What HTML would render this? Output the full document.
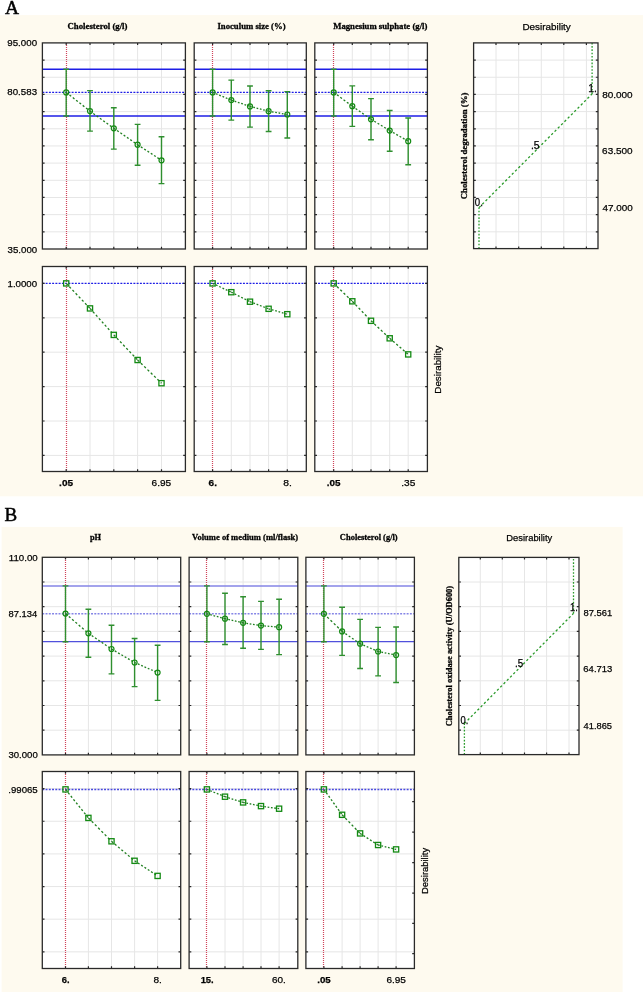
<!DOCTYPE html>
<html><head><meta charset="utf-8"><title>Desirability profiles</title>
<style>html,body{margin:0;padding:0;background:#fff;width:643px;height:992px;overflow:hidden;font-family:"Liberation Sans",sans-serif}svg{display:block}</style>
</head><body>
<svg width="643" height="992" viewBox="0 0 643 992">
<rect x="0" y="0" width="643" height="992" fill="#fff"/>
<rect x="0" y="15.1" width="643" height="481.2" fill="#fefaef"/>
<rect x="1.6" y="526.9" width="621" height="465.1" fill="#fefaef"/>
<rect x="42.4" y="42.9" width="143" height="206.1" fill="#fff"/>
<path d="M42.4 60.08H185.4M42.4 77.25H185.4M42.4 94.42H185.4M42.4 111.6H185.4M42.4 128.78H185.4M42.4 145.95H185.4M42.4 163.12H185.4M42.4 180.3H185.4M42.4 197.47H185.4M42.4 214.65H185.4M42.4 231.83H185.4M90 42.9V249M113.8 42.9V249M137.6 42.9V249M161.5 42.9V249" stroke="#e6e6e6" stroke-width="1" fill="none"/>
<line x1="66.5" y1="43" x2="66.5" y2="249" stroke="#d0445a" stroke-width="1.2" stroke-dasharray="1 1"/>
<line x1="42.4" y1="69.3" x2="185.4" y2="69.3" stroke="#1e1ee6" stroke-width="1.4"/>
<line x1="42.4" y1="116" x2="185.4" y2="116" stroke="#1e1ee6" stroke-width="1.4"/>
<line x1="42.4" y1="92.4" x2="185.4" y2="92.4" stroke="#1e1ee6" stroke-width="1.3" stroke-dasharray="1.95 1.3"/>
<path d="M66.2 69.3V116M63.3 69.3h5.8M63.3 116h5.8M90 90.6V131.1M87.1 90.6h5.8M87.1 131.1h5.8M113.8 107.8V149.1M110.9 107.8h5.8M110.9 149.1h5.8M137.6 124.4V165.2M134.7 124.4h5.8M134.7 165.2h5.8M161.5 136.7V183.6M158.6 136.7h5.8M158.6 183.6h5.8" stroke="#2f8f2f" stroke-width="1.4" fill="none"/>
<path d="M66.2 92.4L90 111.1" stroke="#1f7f1f" stroke-width="1.3" stroke-dasharray="2.1 2.1" fill="none"/>
<path d="M90 111.1L113.8 128.3" stroke="#1f7f1f" stroke-width="1.3" stroke-dasharray="2.04 2.04" fill="none"/>
<path d="M113.8 128.3L137.6 144.7" stroke="#1f7f1f" stroke-width="1.3" stroke-dasharray="2 2" fill="none"/>
<path d="M137.6 144.7L161.5 160.3" stroke="#1f7f1f" stroke-width="1.3" stroke-dasharray="1.97 1.97" fill="none"/>
<circle cx="66.2" cy="92.4" r="2.5" fill="none" stroke="#138a13" stroke-width="1.2"/>
<circle cx="90" cy="111.1" r="2.5" fill="none" stroke="#138a13" stroke-width="1.2"/>
<circle cx="113.8" cy="128.3" r="2.5" fill="none" stroke="#138a13" stroke-width="1.2"/>
<circle cx="137.6" cy="144.7" r="2.5" fill="none" stroke="#138a13" stroke-width="1.2"/>
<circle cx="161.5" cy="160.3" r="2.5" fill="none" stroke="#138a13" stroke-width="1.2"/>
<path d="M42.4 60.08h2.2M42.4 77.25h2.2M42.4 94.42h2.2M42.4 111.6h2.2M42.4 128.78h2.2M42.4 145.95h2.2M42.4 163.12h2.2M42.4 180.3h2.2M42.4 197.47h2.2M42.4 214.65h2.2M42.4 231.83h2.2M185.4 60.08h-2.2M185.4 77.25h-2.2M185.4 94.42h-2.2M185.4 111.6h-2.2M185.4 128.78h-2.2M185.4 145.95h-2.2M185.4 163.12h-2.2M185.4 180.3h-2.2M185.4 197.47h-2.2M185.4 214.65h-2.2M185.4 231.83h-2.2M66.2 42.9v2.2M66.2 249v-2.2M90 42.9v2.2M90 249v-2.2M113.8 42.9v2.2M113.8 249v-2.2M137.6 42.9v2.2M137.6 249v-2.2M161.5 42.9v2.2M161.5 249v-2.2" stroke="#2a2a2a" stroke-width="1.2" fill="none"/>
<rect x="42.4" y="42.9" width="143" height="206.1" fill="none" stroke="#2a2a2a" stroke-width="1.3"/>
<rect x="42.4" y="266.5" width="143" height="205" fill="#fff"/>
<path d="M42.4 317.8H185.4M42.4 352.2H185.4M42.4 386.6H185.4M42.4 421H185.4M42.4 455.4H185.4M90 266.5V471.5M113.8 266.5V471.5M137.6 266.5V471.5M161.5 266.5V471.5" stroke="#e6e6e6" stroke-width="1" fill="none"/>
<line x1="66.5" y1="267" x2="66.5" y2="471.5" stroke="#d0445a" stroke-width="1.2" stroke-dasharray="1 1"/>
<line x1="42.4" y1="283.4" x2="185.4" y2="283.4" stroke="#1e1ee6" stroke-width="1.3" stroke-dasharray="1.95 1.3"/>
<path d="M66.2 283.4L90 308.4" stroke="#1f7f1f" stroke-width="1.3" stroke-dasharray="2.28 2.28" fill="none"/>
<path d="M90 308.4L113.8 334.9" stroke="#1f7f1f" stroke-width="1.3" stroke-dasharray="2.22 2.22" fill="none"/>
<path d="M113.8 334.9L137.6 360" stroke="#1f7f1f" stroke-width="1.3" stroke-dasharray="2.27 2.27" fill="none"/>
<path d="M137.6 360L161.5 383.2" stroke="#1f7f1f" stroke-width="1.3" stroke-dasharray="2.3 2.3" fill="none"/>
<rect x="63.6" y="280.8" width="5.2" height="5.2" fill="none" stroke="#138a13" stroke-width="1.3"/>
<rect x="87.4" y="305.8" width="5.2" height="5.2" fill="none" stroke="#138a13" stroke-width="1.3"/>
<rect x="111.2" y="332.3" width="5.2" height="5.2" fill="none" stroke="#138a13" stroke-width="1.3"/>
<rect x="135" y="357.4" width="5.2" height="5.2" fill="none" stroke="#138a13" stroke-width="1.3"/>
<rect x="158.9" y="380.6" width="5.2" height="5.2" fill="none" stroke="#138a13" stroke-width="1.3"/>
<path d="M42.4 283.4h2.2M42.4 317.8h2.2M42.4 352.2h2.2M42.4 386.6h2.2M42.4 421h2.2M42.4 455.4h2.2M185.4 283.4h-2.2M185.4 317.8h-2.2M185.4 352.2h-2.2M185.4 386.6h-2.2M185.4 421h-2.2M185.4 455.4h-2.2M66.2 266.5v2.2M66.2 471.5v-2.2M90 266.5v2.2M90 471.5v-2.2M113.8 266.5v2.2M113.8 471.5v-2.2M137.6 266.5v2.2M137.6 471.5v-2.2M161.5 266.5v2.2M161.5 471.5v-2.2" stroke="#2a2a2a" stroke-width="1.2" fill="none"/>
<rect x="42.4" y="266.5" width="143" height="205" fill="none" stroke="#2a2a2a" stroke-width="1.3"/>
<rect x="194.2" y="42.9" width="112.1" height="206.1" fill="#fff"/>
<path d="M194.2 60.08H306.3M194.2 77.25H306.3M194.2 94.42H306.3M194.2 111.6H306.3M194.2 128.78H306.3M194.2 145.95H306.3M194.2 163.12H306.3M194.2 180.3H306.3M194.2 197.47H306.3M194.2 214.65H306.3M194.2 231.83H306.3M231.3 42.9V249M250 42.9V249M268.6 42.9V249M287.3 42.9V249" stroke="#e6e6e6" stroke-width="1" fill="none"/>
<line x1="212.5" y1="43" x2="212.5" y2="249" stroke="#d0445a" stroke-width="1.2" stroke-dasharray="1 1"/>
<line x1="194.2" y1="69.3" x2="306.3" y2="69.3" stroke="#1e1ee6" stroke-width="1.4"/>
<line x1="194.2" y1="116" x2="306.3" y2="116" stroke="#1e1ee6" stroke-width="1.4"/>
<line x1="194.2" y1="92.4" x2="306.3" y2="92.4" stroke="#1e1ee6" stroke-width="1.3" stroke-dasharray="1.95 1.3"/>
<path d="M212.6 69.3V116M209.7 69.3h5.8M209.7 116h5.8M231.3 80.1V120.1M228.4 80.1h5.8M228.4 120.1h5.8M250 86V127.1M247.1 86h5.8M247.1 127.1h5.8M268.6 90.7V131.5M265.7 90.7h5.8M265.7 131.5h5.8M287.3 91.6V138M284.4 91.6h5.8M284.4 138h5.8" stroke="#2f8f2f" stroke-width="1.4" fill="none"/>
<path d="M212.6 92.4L231.3 100.1" stroke="#1f7f1f" stroke-width="1.3" stroke-dasharray="1.78 1.78" fill="none"/>
<path d="M231.3 100.1L250 106.4" stroke="#1f7f1f" stroke-width="1.3" stroke-dasharray="1.74 1.74" fill="none"/>
<path d="M250 106.4L268.6 111.2" stroke="#1f7f1f" stroke-width="1.3" stroke-dasharray="1.7 1.7" fill="none"/>
<path d="M268.6 111.2L287.3 114.5" stroke="#1f7f1f" stroke-width="1.3" stroke-dasharray="1.68 1.68" fill="none"/>
<circle cx="212.6" cy="92.4" r="2.5" fill="none" stroke="#138a13" stroke-width="1.2"/>
<circle cx="231.3" cy="100.1" r="2.5" fill="none" stroke="#138a13" stroke-width="1.2"/>
<circle cx="250" cy="106.4" r="2.5" fill="none" stroke="#138a13" stroke-width="1.2"/>
<circle cx="268.6" cy="111.2" r="2.5" fill="none" stroke="#138a13" stroke-width="1.2"/>
<circle cx="287.3" cy="114.5" r="2.5" fill="none" stroke="#138a13" stroke-width="1.2"/>
<path d="M194.2 60.08h2.2M194.2 77.25h2.2M194.2 94.42h2.2M194.2 111.6h2.2M194.2 128.78h2.2M194.2 145.95h2.2M194.2 163.12h2.2M194.2 180.3h2.2M194.2 197.47h2.2M194.2 214.65h2.2M194.2 231.83h2.2M306.3 60.08h-2.2M306.3 77.25h-2.2M306.3 94.42h-2.2M306.3 111.6h-2.2M306.3 128.78h-2.2M306.3 145.95h-2.2M306.3 163.12h-2.2M306.3 180.3h-2.2M306.3 197.47h-2.2M306.3 214.65h-2.2M306.3 231.83h-2.2M212.6 42.9v2.2M212.6 249v-2.2M231.3 42.9v2.2M231.3 249v-2.2M250 42.9v2.2M250 249v-2.2M268.6 42.9v2.2M268.6 249v-2.2M287.3 42.9v2.2M287.3 249v-2.2" stroke="#2a2a2a" stroke-width="1.2" fill="none"/>
<rect x="194.2" y="42.9" width="112.1" height="206.1" fill="none" stroke="#2a2a2a" stroke-width="1.3"/>
<rect x="194.2" y="266.5" width="112.1" height="205" fill="#fff"/>
<path d="M194.2 317.8H306.3M194.2 352.2H306.3M194.2 386.6H306.3M194.2 421H306.3M194.2 455.4H306.3M231.3 266.5V471.5M250 266.5V471.5M268.6 266.5V471.5M287.3 266.5V471.5" stroke="#e6e6e6" stroke-width="1" fill="none"/>
<line x1="212.5" y1="267" x2="212.5" y2="471.5" stroke="#d0445a" stroke-width="1.2" stroke-dasharray="1 1"/>
<line x1="194.2" y1="283.4" x2="306.3" y2="283.4" stroke="#1e1ee6" stroke-width="1.3" stroke-dasharray="1.95 1.3"/>
<path d="M212.6 283.4L231.3 292.2" stroke="#1f7f1f" stroke-width="1.3" stroke-dasharray="1.82 1.82" fill="none"/>
<path d="M231.3 292.2L250 301.7" stroke="#1f7f1f" stroke-width="1.3" stroke-dasharray="1.85 1.85" fill="none"/>
<path d="M250 301.7L268.6 308.8" stroke="#1f7f1f" stroke-width="1.3" stroke-dasharray="1.77 1.77" fill="none"/>
<path d="M268.6 308.8L287.3 314.2" stroke="#1f7f1f" stroke-width="1.3" stroke-dasharray="1.72 1.72" fill="none"/>
<rect x="210" y="280.8" width="5.2" height="5.2" fill="none" stroke="#138a13" stroke-width="1.3"/>
<rect x="228.7" y="289.6" width="5.2" height="5.2" fill="none" stroke="#138a13" stroke-width="1.3"/>
<rect x="247.4" y="299.1" width="5.2" height="5.2" fill="none" stroke="#138a13" stroke-width="1.3"/>
<rect x="266" y="306.2" width="5.2" height="5.2" fill="none" stroke="#138a13" stroke-width="1.3"/>
<rect x="284.7" y="311.6" width="5.2" height="5.2" fill="none" stroke="#138a13" stroke-width="1.3"/>
<path d="M194.2 283.4h2.2M194.2 317.8h2.2M194.2 352.2h2.2M194.2 386.6h2.2M194.2 421h2.2M194.2 455.4h2.2M306.3 283.4h-2.2M306.3 317.8h-2.2M306.3 352.2h-2.2M306.3 386.6h-2.2M306.3 421h-2.2M306.3 455.4h-2.2M212.6 266.5v2.2M212.6 471.5v-2.2M231.3 266.5v2.2M231.3 471.5v-2.2M250 266.5v2.2M250 471.5v-2.2M268.6 266.5v2.2M268.6 471.5v-2.2M287.3 266.5v2.2M287.3 471.5v-2.2" stroke="#2a2a2a" stroke-width="1.2" fill="none"/>
<rect x="194.2" y="266.5" width="112.1" height="205" fill="none" stroke="#2a2a2a" stroke-width="1.3"/>
<rect x="314.8" y="42.9" width="112.6" height="206.1" fill="#fff"/>
<path d="M314.8 60.08H427.4M314.8 77.25H427.4M314.8 94.42H427.4M314.8 111.6H427.4M314.8 128.78H427.4M314.8 145.95H427.4M314.8 163.12H427.4M314.8 180.3H427.4M314.8 197.47H427.4M314.8 214.65H427.4M314.8 231.83H427.4M352.3 42.9V249M371 42.9V249M389.7 42.9V249M408.2 42.9V249" stroke="#e6e6e6" stroke-width="1" fill="none"/>
<line x1="333.5" y1="43" x2="333.5" y2="249" stroke="#d0445a" stroke-width="1.2" stroke-dasharray="1 1"/>
<line x1="314.8" y1="69.3" x2="427.4" y2="69.3" stroke="#1e1ee6" stroke-width="1.4"/>
<line x1="314.8" y1="116" x2="427.4" y2="116" stroke="#1e1ee6" stroke-width="1.4"/>
<line x1="314.8" y1="92.4" x2="427.4" y2="92.4" stroke="#1e1ee6" stroke-width="1.3" stroke-dasharray="1.95 1.3"/>
<path d="M333.7 69.3V116M330.8 69.3h5.8M330.8 116h5.8M352.3 85.9V126.4M349.4 85.9h5.8M349.4 126.4h5.8M371 98.6V139.7M368.1 98.6h5.8M368.1 139.7h5.8M389.7 110.5V151.3M386.8 110.5h5.8M386.8 151.3h5.8M408.2 118V164.8M405.3 118h5.8M405.3 164.8h5.8" stroke="#2f8f2f" stroke-width="1.4" fill="none"/>
<path d="M333.7 92.4L352.3 106.2" stroke="#1f7f1f" stroke-width="1.3" stroke-dasharray="2.05 2.05" fill="none"/>
<path d="M352.3 106.2L371 119.3" stroke="#1f7f1f" stroke-width="1.3" stroke-dasharray="2.01 2.01" fill="none"/>
<path d="M371 119.3L389.7 130.6" stroke="#1f7f1f" stroke-width="1.3" stroke-dasharray="1.93 1.93" fill="none"/>
<path d="M389.7 130.6L408.2 141.2" stroke="#1f7f1f" stroke-width="1.3" stroke-dasharray="1.9 1.9" fill="none"/>
<circle cx="333.7" cy="92.4" r="2.5" fill="none" stroke="#138a13" stroke-width="1.2"/>
<circle cx="352.3" cy="106.2" r="2.5" fill="none" stroke="#138a13" stroke-width="1.2"/>
<circle cx="371" cy="119.3" r="2.5" fill="none" stroke="#138a13" stroke-width="1.2"/>
<circle cx="389.7" cy="130.6" r="2.5" fill="none" stroke="#138a13" stroke-width="1.2"/>
<circle cx="408.2" cy="141.2" r="2.5" fill="none" stroke="#138a13" stroke-width="1.2"/>
<path d="M314.8 60.08h2.2M314.8 77.25h2.2M314.8 94.42h2.2M314.8 111.6h2.2M314.8 128.78h2.2M314.8 145.95h2.2M314.8 163.12h2.2M314.8 180.3h2.2M314.8 197.47h2.2M314.8 214.65h2.2M314.8 231.83h2.2M427.4 60.08h-2.2M427.4 77.25h-2.2M427.4 94.42h-2.2M427.4 111.6h-2.2M427.4 128.78h-2.2M427.4 145.95h-2.2M427.4 163.12h-2.2M427.4 180.3h-2.2M427.4 197.47h-2.2M427.4 214.65h-2.2M427.4 231.83h-2.2M333.7 42.9v2.2M333.7 249v-2.2M352.3 42.9v2.2M352.3 249v-2.2M371 42.9v2.2M371 249v-2.2M389.7 42.9v2.2M389.7 249v-2.2M408.2 42.9v2.2M408.2 249v-2.2" stroke="#2a2a2a" stroke-width="1.2" fill="none"/>
<rect x="314.8" y="42.9" width="112.6" height="206.1" fill="none" stroke="#2a2a2a" stroke-width="1.3"/>
<rect x="314.8" y="266.5" width="112.6" height="205" fill="#fff"/>
<path d="M314.8 317.8H427.4M314.8 352.2H427.4M314.8 386.6H427.4M314.8 421H427.4M314.8 455.4H427.4M352.3 266.5V471.5M371 266.5V471.5M389.7 266.5V471.5M408.2 266.5V471.5" stroke="#e6e6e6" stroke-width="1" fill="none"/>
<line x1="333.5" y1="267" x2="333.5" y2="471.5" stroke="#d0445a" stroke-width="1.2" stroke-dasharray="1 1"/>
<line x1="314.8" y1="283.4" x2="427.4" y2="283.4" stroke="#1e1ee6" stroke-width="1.3" stroke-dasharray="1.95 1.3"/>
<path d="M333.7 283.4L352.3 301.3" stroke="#1f7f1f" stroke-width="1.3" stroke-dasharray="2.29 2.29" fill="none"/>
<path d="M352.3 301.3L371 320.8" stroke="#1f7f1f" stroke-width="1.3" stroke-dasharray="2.29 2.29" fill="none"/>
<path d="M371 320.8L389.7 338.3" stroke="#1f7f1f" stroke-width="1.3" stroke-dasharray="2.26 2.26" fill="none"/>
<path d="M389.7 338.3L408.2 354.4" stroke="#1f7f1f" stroke-width="1.3" stroke-dasharray="2.19 2.19" fill="none"/>
<rect x="331.1" y="280.8" width="5.2" height="5.2" fill="none" stroke="#138a13" stroke-width="1.3"/>
<rect x="349.7" y="298.7" width="5.2" height="5.2" fill="none" stroke="#138a13" stroke-width="1.3"/>
<rect x="368.4" y="318.2" width="5.2" height="5.2" fill="none" stroke="#138a13" stroke-width="1.3"/>
<rect x="387.1" y="335.7" width="5.2" height="5.2" fill="none" stroke="#138a13" stroke-width="1.3"/>
<rect x="405.6" y="351.8" width="5.2" height="5.2" fill="none" stroke="#138a13" stroke-width="1.3"/>
<path d="M314.8 283.4h2.2M314.8 317.8h2.2M314.8 352.2h2.2M314.8 386.6h2.2M314.8 421h2.2M314.8 455.4h2.2M427.4 283.4h-2.2M427.4 317.8h-2.2M427.4 352.2h-2.2M427.4 386.6h-2.2M427.4 421h-2.2M427.4 455.4h-2.2M333.7 266.5v2.2M333.7 471.5v-2.2M352.3 266.5v2.2M352.3 471.5v-2.2M371 266.5v2.2M371 471.5v-2.2M389.7 266.5v2.2M389.7 471.5v-2.2M408.2 266.5v2.2M408.2 471.5v-2.2" stroke="#2a2a2a" stroke-width="1.2" fill="none"/>
<rect x="314.8" y="266.5" width="112.6" height="205" fill="none" stroke="#2a2a2a" stroke-width="1.3"/>
<rect x="473.6" y="42.9" width="124.4" height="205.7" fill="#fff"/>
<path d="M473.6 60.08H598M473.6 77.25H598M473.6 94.42H598M473.6 111.6H598M473.6 128.78H598M473.6 145.95H598M473.6 163.12H598M473.6 180.3H598M473.6 197.47H598M473.6 214.65H598M473.6 231.83H598M496 42.9V248.6M518.7 42.9V248.6M541.3 42.9V248.6M563.8 42.9V248.6M586.4 42.9V248.6" stroke="#e6e6e6" stroke-width="1" fill="none"/>
<path d="M479 248.6L479 207.6" stroke="#2a9a2a" stroke-width="1.3" stroke-dasharray="1.65 1.65" fill="none"/>
<path d="M479 207.6L592.1 93.9" stroke="#2a9a2a" stroke-width="1.3" stroke-dasharray="2.33 2.33" fill="none"/>
<path d="M592.1 93.9L592.1 42.9" stroke="#2a9a2a" stroke-width="1.3" stroke-dasharray="1.65 1.65" fill="none"/>
<path d="M473.6 60.08h2.2M473.6 77.25h2.2M473.6 94.42h2.2M473.6 111.6h2.2M473.6 128.78h2.2M473.6 145.95h2.2M473.6 163.12h2.2M473.6 180.3h2.2M473.6 197.47h2.2M473.6 214.65h2.2M473.6 231.83h2.2M598 60.08h-2.2M598 77.25h-2.2M598 94.42h-2.2M598 111.6h-2.2M598 128.78h-2.2M598 145.95h-2.2M598 163.12h-2.2M598 180.3h-2.2M598 197.47h-2.2M598 214.65h-2.2M598 231.83h-2.2M496 42.9v2.2M496 248.6v-2.2M518.7 42.9v2.2M518.7 248.6v-2.2M541.3 42.9v2.2M541.3 248.6v-2.2M563.8 42.9v2.2M563.8 248.6v-2.2M586.4 42.9v2.2M586.4 248.6v-2.2" stroke="#2a2a2a" stroke-width="1.2" fill="none"/>
<rect x="473.6" y="42.9" width="124.4" height="205.7" fill="none" stroke="#2a2a2a" stroke-width="1.3"/>
<rect x="42.3" y="557.3" width="138.4" height="197.6" fill="#fff"/>
<path d="M42.3 582H180.7M42.3 606.7H180.7M42.3 631.4H180.7M42.3 656.1H180.7M42.3 680.8H180.7M42.3 705.5H180.7M42.3 730.2H180.7M88.4 557.3V754.9M111.5 557.3V754.9M134.6 557.3V754.9M157.6 557.3V754.9" stroke="#e6e6e6" stroke-width="1" fill="none"/>
<line x1="65.5" y1="558" x2="65.5" y2="754.9" stroke="#d0445a" stroke-width="1.2" stroke-dasharray="1 1"/>
<line x1="42.3" y1="586" x2="180.7" y2="586" stroke="#8585e6" stroke-width="1.7"/>
<line x1="42.3" y1="641.6" x2="180.7" y2="641.6" stroke="#5050dc" stroke-width="1.4"/>
<line x1="42.3" y1="613.8" x2="180.7" y2="613.8" stroke="#8585e6" stroke-width="1.6" stroke-dasharray="1.95 1.3"/>
<path d="M65.5 585.9V641.7M62.6 585.9h5.8M62.6 641.7h5.8M88.4 609.2V657.3M85.5 609.2h5.8M85.5 657.3h5.8M111.5 625.3V673.9M108.6 625.3h5.8M108.6 673.9h5.8M134.6 638.5V686.6M131.7 638.5h5.8M131.7 686.6h5.8M157.6 645.3V700.4M154.7 645.3h5.8M154.7 700.4h5.8" stroke="#2f8f2f" stroke-width="1.4" fill="none"/>
<path d="M65.5 613.6L88.4 633.3" stroke="#1f7f1f" stroke-width="1.3" stroke-dasharray="2.18 2.18" fill="none"/>
<path d="M88.4 633.3L111.5 649" stroke="#1f7f1f" stroke-width="1.3" stroke-dasharray="2 2" fill="none"/>
<path d="M111.5 649L134.6 662.5" stroke="#1f7f1f" stroke-width="1.3" stroke-dasharray="1.91 1.91" fill="none"/>
<path d="M134.6 662.5L157.6 672.6" stroke="#1f7f1f" stroke-width="1.3" stroke-dasharray="1.8 1.8" fill="none"/>
<circle cx="65.5" cy="613.6" r="2.5" fill="none" stroke="#138a13" stroke-width="1.2"/>
<circle cx="88.4" cy="633.3" r="2.5" fill="none" stroke="#138a13" stroke-width="1.2"/>
<circle cx="111.5" cy="649" r="2.5" fill="none" stroke="#138a13" stroke-width="1.2"/>
<circle cx="134.6" cy="662.5" r="2.5" fill="none" stroke="#138a13" stroke-width="1.2"/>
<circle cx="157.6" cy="672.6" r="2.5" fill="none" stroke="#138a13" stroke-width="1.2"/>
<path d="M42.3 582h2.2M42.3 606.7h2.2M42.3 631.4h2.2M42.3 656.1h2.2M42.3 680.8h2.2M42.3 705.5h2.2M42.3 730.2h2.2M180.7 582h-2.2M180.7 606.7h-2.2M180.7 631.4h-2.2M180.7 656.1h-2.2M180.7 680.8h-2.2M180.7 705.5h-2.2M180.7 730.2h-2.2M65.5 557.3v2.2M65.5 754.9v-2.2M88.4 557.3v2.2M88.4 754.9v-2.2M111.5 557.3v2.2M111.5 754.9v-2.2M134.6 557.3v2.2M134.6 754.9v-2.2M157.6 557.3v2.2M157.6 754.9v-2.2" stroke="#2a2a2a" stroke-width="1.2" fill="none"/>
<rect x="42.3" y="557.3" width="138.4" height="197.6" fill="none" stroke="#2a2a2a" stroke-width="1.3"/>
<rect x="42.3" y="771.5" width="138.4" height="197" fill="#fff"/>
<path d="M42.3 788.6H180.7M42.3 821.25H180.7M42.3 853.9H180.7M42.3 886.55H180.7M42.3 919.2H180.7M42.3 951.85H180.7M88.4 771.5V968.5M111.5 771.5V968.5M134.6 771.5V968.5M157.6 771.5V968.5" stroke="#e6e6e6" stroke-width="1" fill="none"/>
<line x1="65.5" y1="772" x2="65.5" y2="968.5" stroke="#d0445a" stroke-width="1.2" stroke-dasharray="1 1"/>
<line x1="42.3" y1="789.5" x2="180.7" y2="789.5" stroke="#4848e0" stroke-width="1.3" stroke-dasharray="1.95 1.3"/>
<path d="M65.5 789.4L88.4 817.9" stroke="#1f7f1f" stroke-width="1.3" stroke-dasharray="2.12 2.12" fill="none"/>
<path d="M88.4 817.9L111.5 841.3" stroke="#1f7f1f" stroke-width="1.3" stroke-dasharray="2.32 2.32" fill="none"/>
<path d="M111.5 841.3L134.6 860.8" stroke="#1f7f1f" stroke-width="1.3" stroke-dasharray="2.16 2.16" fill="none"/>
<path d="M134.6 860.8L157.6 875.9" stroke="#1f7f1f" stroke-width="1.3" stroke-dasharray="1.97 1.97" fill="none"/>
<rect x="62.9" y="786.8" width="5.2" height="5.2" fill="none" stroke="#138a13" stroke-width="1.3"/>
<rect x="85.8" y="815.3" width="5.2" height="5.2" fill="none" stroke="#138a13" stroke-width="1.3"/>
<rect x="108.9" y="838.7" width="5.2" height="5.2" fill="none" stroke="#138a13" stroke-width="1.3"/>
<rect x="132" y="858.2" width="5.2" height="5.2" fill="none" stroke="#138a13" stroke-width="1.3"/>
<rect x="155" y="873.3" width="5.2" height="5.2" fill="none" stroke="#138a13" stroke-width="1.3"/>
<path d="M42.3 788.6h2.2M42.3 821.25h2.2M42.3 853.9h2.2M42.3 886.55h2.2M42.3 919.2h2.2M42.3 951.85h2.2M180.7 788.6h-2.2M180.7 821.25h-2.2M180.7 853.9h-2.2M180.7 886.55h-2.2M180.7 919.2h-2.2M180.7 951.85h-2.2M65.5 771.5v2.2M65.5 968.5v-2.2M88.4 771.5v2.2M88.4 968.5v-2.2M111.5 771.5v2.2M111.5 968.5v-2.2M134.6 771.5v2.2M134.6 968.5v-2.2M157.6 771.5v2.2M157.6 968.5v-2.2" stroke="#2a2a2a" stroke-width="1.2" fill="none"/>
<rect x="42.3" y="771.5" width="138.4" height="197" fill="none" stroke="#2a2a2a" stroke-width="1.3"/>
<rect x="189.1" y="557.3" width="108.7" height="197.6" fill="#fff"/>
<path d="M189.1 582H297.8M189.1 606.7H297.8M189.1 631.4H297.8M189.1 656.1H297.8M189.1 680.8H297.8M189.1 705.5H297.8M189.1 730.2H297.8M225 557.3V754.9M243.1 557.3V754.9M261 557.3V754.9M279.1 557.3V754.9" stroke="#e6e6e6" stroke-width="1" fill="none"/>
<line x1="206.5" y1="558" x2="206.5" y2="754.9" stroke="#d0445a" stroke-width="1.2" stroke-dasharray="1 1"/>
<line x1="189.1" y1="586" x2="297.8" y2="586" stroke="#8585e6" stroke-width="1.7"/>
<line x1="189.1" y1="641.6" x2="297.8" y2="641.6" stroke="#5050dc" stroke-width="1.4"/>
<line x1="189.1" y1="613.8" x2="297.8" y2="613.8" stroke="#8585e6" stroke-width="1.6" stroke-dasharray="1.95 1.3"/>
<path d="M206.9 585.9V641.7M204 585.9h5.8M204 641.7h5.8M225 593.2V644.5M222.1 593.2h5.8M222.1 644.5h5.8M243.1 596.7V648.3M240.2 596.7h5.8M240.2 648.3h5.8M261 601.4V649.4M258.1 601.4h5.8M258.1 649.4h5.8M279.1 599.3V654.6M276.2 599.3h5.8M276.2 654.6h5.8" stroke="#2f8f2f" stroke-width="1.4" fill="none"/>
<path d="M206.9 613.8L225 618.7" stroke="#1f7f1f" stroke-width="1.3" stroke-dasharray="1.71 1.71" fill="none"/>
<path d="M225 618.7L243.1 622.8" stroke="#1f7f1f" stroke-width="1.3" stroke-dasharray="1.69 1.69" fill="none"/>
<path d="M243.1 622.8L261 625.6" stroke="#1f7f1f" stroke-width="1.3" stroke-dasharray="1.67 1.67" fill="none"/>
<path d="M261 625.6L279.1 627.2" stroke="#1f7f1f" stroke-width="1.3" stroke-dasharray="1.66 1.66" fill="none"/>
<circle cx="206.9" cy="613.8" r="2.5" fill="none" stroke="#138a13" stroke-width="1.2"/>
<circle cx="225" cy="618.7" r="2.5" fill="none" stroke="#138a13" stroke-width="1.2"/>
<circle cx="243.1" cy="622.8" r="2.5" fill="none" stroke="#138a13" stroke-width="1.2"/>
<circle cx="261" cy="625.6" r="2.5" fill="none" stroke="#138a13" stroke-width="1.2"/>
<circle cx="279.1" cy="627.2" r="2.5" fill="none" stroke="#138a13" stroke-width="1.2"/>
<path d="M189.1 582h2.2M189.1 606.7h2.2M189.1 631.4h2.2M189.1 656.1h2.2M189.1 680.8h2.2M189.1 705.5h2.2M189.1 730.2h2.2M297.8 582h-2.2M297.8 606.7h-2.2M297.8 631.4h-2.2M297.8 656.1h-2.2M297.8 680.8h-2.2M297.8 705.5h-2.2M297.8 730.2h-2.2M206.9 557.3v2.2M206.9 754.9v-2.2M225 557.3v2.2M225 754.9v-2.2M243.1 557.3v2.2M243.1 754.9v-2.2M261 557.3v2.2M261 754.9v-2.2M279.1 557.3v2.2M279.1 754.9v-2.2" stroke="#2a2a2a" stroke-width="1.2" fill="none"/>
<rect x="189.1" y="557.3" width="108.7" height="197.6" fill="none" stroke="#2a2a2a" stroke-width="1.3"/>
<rect x="189.1" y="771.5" width="108.7" height="197" fill="#fff"/>
<path d="M189.1 788.6H297.8M189.1 821.25H297.8M189.1 853.9H297.8M189.1 886.55H297.8M189.1 919.2H297.8M189.1 951.85H297.8M225 771.5V968.5M243.1 771.5V968.5M261 771.5V968.5M279.1 771.5V968.5" stroke="#e6e6e6" stroke-width="1" fill="none"/>
<line x1="206.5" y1="772" x2="206.5" y2="968.5" stroke="#d0445a" stroke-width="1.2" stroke-dasharray="1 1"/>
<line x1="189.1" y1="789.5" x2="297.8" y2="789.5" stroke="#4848e0" stroke-width="1.3" stroke-dasharray="1.95 1.3"/>
<path d="M206.9 789.4L225 796.7" stroke="#1f7f1f" stroke-width="1.3" stroke-dasharray="1.78 1.78" fill="none"/>
<path d="M225 796.7L243.1 802.4" stroke="#1f7f1f" stroke-width="1.3" stroke-dasharray="1.73 1.73" fill="none"/>
<path d="M243.1 802.4L261 806.1" stroke="#1f7f1f" stroke-width="1.3" stroke-dasharray="1.68 1.68" fill="none"/>
<path d="M261 806.1L279.1 808.7" stroke="#1f7f1f" stroke-width="1.3" stroke-dasharray="1.67 1.67" fill="none"/>
<rect x="204.3" y="786.8" width="5.2" height="5.2" fill="none" stroke="#138a13" stroke-width="1.3"/>
<rect x="222.4" y="794.1" width="5.2" height="5.2" fill="none" stroke="#138a13" stroke-width="1.3"/>
<rect x="240.5" y="799.8" width="5.2" height="5.2" fill="none" stroke="#138a13" stroke-width="1.3"/>
<rect x="258.4" y="803.5" width="5.2" height="5.2" fill="none" stroke="#138a13" stroke-width="1.3"/>
<rect x="276.5" y="806.1" width="5.2" height="5.2" fill="none" stroke="#138a13" stroke-width="1.3"/>
<path d="M189.1 788.6h2.2M189.1 821.25h2.2M189.1 853.9h2.2M189.1 886.55h2.2M189.1 919.2h2.2M189.1 951.85h2.2M297.8 788.6h-2.2M297.8 821.25h-2.2M297.8 853.9h-2.2M297.8 886.55h-2.2M297.8 919.2h-2.2M297.8 951.85h-2.2M206.9 771.5v2.2M206.9 968.5v-2.2M225 771.5v2.2M225 968.5v-2.2M243.1 771.5v2.2M243.1 968.5v-2.2M261 771.5v2.2M261 968.5v-2.2M279.1 771.5v2.2M279.1 968.5v-2.2" stroke="#2a2a2a" stroke-width="1.2" fill="none"/>
<rect x="189.1" y="771.5" width="108.7" height="197" fill="none" stroke="#2a2a2a" stroke-width="1.3"/>
<rect x="305.9" y="557.3" width="108.5" height="197.6" fill="#fff"/>
<path d="M305.9 582H414.4M305.9 606.7H414.4M305.9 631.4H414.4M305.9 656.1H414.4M305.9 680.8H414.4M305.9 705.5H414.4M305.9 730.2H414.4M342.1 557.3V754.9M360.1 557.3V754.9M378.1 557.3V754.9M396.1 557.3V754.9" stroke="#e6e6e6" stroke-width="1" fill="none"/>
<line x1="323.5" y1="558" x2="323.5" y2="754.9" stroke="#d0445a" stroke-width="1.2" stroke-dasharray="1 1"/>
<line x1="305.9" y1="586" x2="414.4" y2="586" stroke="#8585e6" stroke-width="1.7"/>
<line x1="305.9" y1="641.6" x2="414.4" y2="641.6" stroke="#5050dc" stroke-width="1.4"/>
<line x1="305.9" y1="613.8" x2="414.4" y2="613.8" stroke="#8585e6" stroke-width="1.6" stroke-dasharray="1.95 1.3"/>
<path d="M323.9 585.9V641.7M321 585.9h5.8M321 641.7h5.8M342.1 607.3V655.4M339.2 607.3h5.8M339.2 655.4h5.8M360.1 619.4V668.5M357.2 619.4h5.8M357.2 668.5h5.8M378.1 627.4V675.9M375.2 627.4h5.8M375.2 675.9h5.8M396.1 627V682.5M393.2 627h5.8M393.2 682.5h5.8" stroke="#2f8f2f" stroke-width="1.4" fill="none"/>
<path d="M323.9 613.8L342.1 631.4" stroke="#1f7f1f" stroke-width="1.3" stroke-dasharray="2.3 2.3" fill="none"/>
<path d="M342.1 631.4L360.1 643.7" stroke="#1f7f1f" stroke-width="1.3" stroke-dasharray="2 2" fill="none"/>
<path d="M360.1 643.7L378.1 651.5" stroke="#1f7f1f" stroke-width="1.3" stroke-dasharray="1.8 1.8" fill="none"/>
<path d="M378.1 651.5L396.1 655.1" stroke="#1f7f1f" stroke-width="1.3" stroke-dasharray="1.68 1.68" fill="none"/>
<circle cx="323.9" cy="613.8" r="2.5" fill="none" stroke="#138a13" stroke-width="1.2"/>
<circle cx="342.1" cy="631.4" r="2.5" fill="none" stroke="#138a13" stroke-width="1.2"/>
<circle cx="360.1" cy="643.7" r="2.5" fill="none" stroke="#138a13" stroke-width="1.2"/>
<circle cx="378.1" cy="651.5" r="2.5" fill="none" stroke="#138a13" stroke-width="1.2"/>
<circle cx="396.1" cy="655.1" r="2.5" fill="none" stroke="#138a13" stroke-width="1.2"/>
<path d="M305.9 582h2.2M305.9 606.7h2.2M305.9 631.4h2.2M305.9 656.1h2.2M305.9 680.8h2.2M305.9 705.5h2.2M305.9 730.2h2.2M414.4 582h-2.2M414.4 606.7h-2.2M414.4 631.4h-2.2M414.4 656.1h-2.2M414.4 680.8h-2.2M414.4 705.5h-2.2M414.4 730.2h-2.2M323.9 557.3v2.2M323.9 754.9v-2.2M342.1 557.3v2.2M342.1 754.9v-2.2M360.1 557.3v2.2M360.1 754.9v-2.2M378.1 557.3v2.2M378.1 754.9v-2.2M396.1 557.3v2.2M396.1 754.9v-2.2" stroke="#2a2a2a" stroke-width="1.2" fill="none"/>
<rect x="305.9" y="557.3" width="108.5" height="197.6" fill="none" stroke="#2a2a2a" stroke-width="1.3"/>
<rect x="305.9" y="771.5" width="108.5" height="197" fill="#fff"/>
<path d="M305.9 788.6H414.4M305.9 821.25H414.4M305.9 853.9H414.4M305.9 886.55H414.4M305.9 919.2H414.4M305.9 951.85H414.4M342.1 771.5V968.5M360.1 771.5V968.5M378.1 771.5V968.5M396.1 771.5V968.5" stroke="#e6e6e6" stroke-width="1" fill="none"/>
<line x1="323.5" y1="772" x2="323.5" y2="968.5" stroke="#d0445a" stroke-width="1.2" stroke-dasharray="1 1"/>
<line x1="305.9" y1="789.5" x2="414.4" y2="789.5" stroke="#4848e0" stroke-width="1.3" stroke-dasharray="1.95 1.3"/>
<path d="M323.9 789.4L342.1 814.8" stroke="#1f7f1f" stroke-width="1.3" stroke-dasharray="2.03 2.03" fill="none"/>
<path d="M342.1 814.8L360.1 833.4" stroke="#1f7f1f" stroke-width="1.3" stroke-dasharray="2.3 2.3" fill="none"/>
<path d="M360.1 833.4L378.1 845" stroke="#1f7f1f" stroke-width="1.3" stroke-dasharray="1.96 1.96" fill="none"/>
<path d="M378.1 845L396.1 849.4" stroke="#1f7f1f" stroke-width="1.3" stroke-dasharray="1.7 1.7" fill="none"/>
<rect x="321.3" y="786.8" width="5.2" height="5.2" fill="none" stroke="#138a13" stroke-width="1.3"/>
<rect x="339.5" y="812.2" width="5.2" height="5.2" fill="none" stroke="#138a13" stroke-width="1.3"/>
<rect x="357.5" y="830.8" width="5.2" height="5.2" fill="none" stroke="#138a13" stroke-width="1.3"/>
<rect x="375.5" y="842.4" width="5.2" height="5.2" fill="none" stroke="#138a13" stroke-width="1.3"/>
<rect x="393.5" y="846.8" width="5.2" height="5.2" fill="none" stroke="#138a13" stroke-width="1.3"/>
<path d="M305.9 788.6h2.2M305.9 821.25h2.2M305.9 853.9h2.2M305.9 886.55h2.2M305.9 919.2h2.2M305.9 951.85h2.2M414.4 801.7h-2.2M414.4 832.2h-2.2M414.4 862.7h-2.2M414.4 893.1h-2.2M414.4 923.4h-2.2M414.4 953.6h-2.2M323.9 771.5v2.2M323.9 968.5v-2.2M342.1 771.5v2.2M342.1 968.5v-2.2M360.1 771.5v2.2M360.1 968.5v-2.2M378.1 771.5v2.2M378.1 968.5v-2.2M396.1 771.5v2.2M396.1 968.5v-2.2" stroke="#2a2a2a" stroke-width="1.2" fill="none"/>
<rect x="305.9" y="771.5" width="108.5" height="197" fill="none" stroke="#2a2a2a" stroke-width="1.3"/>
<rect x="458.8" y="557.4" width="120.2" height="197.2" fill="#fff"/>
<path d="M458.8 582H579M458.8 606.7H579M458.8 631.4H579M458.8 656.1H579M458.8 680.8H579M458.8 705.5H579M458.8 730.2H579M480.3 557.4V754.6M502.3 557.4V754.6M524.5 557.4V754.6M546.6 557.4V754.6M569 557.4V754.6" stroke="#e6e6e6" stroke-width="1" fill="none"/>
<path d="M464.4 754.6L464.4 723.5" stroke="#2a9a2a" stroke-width="1.3" stroke-dasharray="1.65 1.65" fill="none"/>
<path d="M464.4 723.5L573.5 613.4" stroke="#2a9a2a" stroke-width="1.3" stroke-dasharray="2.32 2.32" fill="none"/>
<path d="M573.5 613.4L573.5 557.4" stroke="#2a9a2a" stroke-width="1.3" stroke-dasharray="1.65 1.65" fill="none"/>
<path d="M458.8 582h2.2M458.8 606.7h2.2M458.8 631.4h2.2M458.8 656.1h2.2M458.8 680.8h2.2M458.8 705.5h2.2M458.8 730.2h2.2M579 582h-2.2M579 606.7h-2.2M579 631.4h-2.2M579 656.1h-2.2M579 680.8h-2.2M579 705.5h-2.2M579 730.2h-2.2M480.3 557.4v2.2M480.3 754.6v-2.2M502.3 557.4v2.2M502.3 754.6v-2.2M524.5 557.4v2.2M524.5 754.6v-2.2M546.6 557.4v2.2M546.6 754.6v-2.2M569 557.4v2.2M569 754.6v-2.2" stroke="#2a2a2a" stroke-width="1.2" fill="none"/>
<rect x="458.8" y="557.4" width="120.2" height="197.2" fill="none" stroke="#2a2a2a" stroke-width="1.3"/>
<g opacity="0.999">
<text x="4.9" y="13.8" font-family="Liberation Serif, serif" font-size="19.6" fill="#000" stroke="#000" stroke-width="0.5" textLength="14.04" lengthAdjust="spacingAndGlyphs">A</text>
<text x="67.55" y="28.7" font-family="Liberation Serif, serif" font-size="9" font-weight="bold" fill="#000" stroke="#000" stroke-width="0.3" textLength="59.93" lengthAdjust="spacingAndGlyphs">Cholesterol (g/l)</text>
<text x="217.44" y="28.7" font-family="Liberation Serif, serif" font-size="9" font-weight="bold" fill="#000" stroke="#000" stroke-width="0.3" textLength="68.14" lengthAdjust="spacingAndGlyphs">Inoculum size (%)</text>
<text x="333.21" y="28.7" font-family="Liberation Serif, serif" font-size="9" font-weight="bold" fill="#000" stroke="#000" stroke-width="0.3" textLength="94.16" lengthAdjust="spacingAndGlyphs">Magnesium sulphate (g/l)</text>
<text x="522.41" y="29.6" font-family="Liberation Sans, sans-serif" font-size="9.8" fill="#000" stroke="#000" stroke-width="0.25" textLength="48.39" lengthAdjust="spacingAndGlyphs">Desirability</text>
<text x="7.31" y="46" font-family="Liberation Sans, sans-serif" font-size="9.6" fill="#000" stroke="#000" stroke-width="0.25" textLength="29.74" lengthAdjust="spacingAndGlyphs">95.000</text>
<text x="7.31" y="95.2" font-family="Liberation Sans, sans-serif" font-size="9.6" fill="#000" stroke="#000" stroke-width="0.25" textLength="29.74" lengthAdjust="spacingAndGlyphs">80.583</text>
<text x="7.61" y="252.5" font-family="Liberation Sans, sans-serif" font-size="9.6" fill="#000" stroke="#000" stroke-width="0.25" textLength="29.54" lengthAdjust="spacingAndGlyphs">35.000</text>
<text x="7.52" y="286.5" font-family="Liberation Sans, sans-serif" font-size="9.6" fill="#000" stroke="#000" stroke-width="0.25" textLength="29.63" lengthAdjust="spacingAndGlyphs">1.0000</text>
<text x="602.2" y="97.5" font-family="Liberation Sans, sans-serif" font-size="9.6" fill="#000" stroke="#000" stroke-width="0.25" textLength="30.46" lengthAdjust="spacingAndGlyphs">80.000</text>
<text x="602.1" y="154.4" font-family="Liberation Sans, sans-serif" font-size="9.6" fill="#000" stroke="#000" stroke-width="0.25" textLength="30.56" lengthAdjust="spacingAndGlyphs">63.500</text>
<text x="602.4" y="210.9" font-family="Liberation Sans, sans-serif" font-size="9.6" fill="#000" stroke="#000" stroke-width="0.25" textLength="30.26" lengthAdjust="spacingAndGlyphs">47.000</text>
<text x="474.81" y="205.6" font-family="Liberation Sans, sans-serif" font-size="10.2" fill="#000" stroke="#000" stroke-width="0.25" textLength="8.04" lengthAdjust="spacingAndGlyphs">0.</text>
<text x="530.97" y="149" font-family="Liberation Sans, sans-serif" font-size="10.2" fill="#000" stroke="#000" stroke-width="0.25" textLength="8.6" lengthAdjust="spacingAndGlyphs">.5</text>
<text x="588.18" y="92.3" font-family="Liberation Sans, sans-serif" font-size="10.2" fill="#000" stroke="#000" stroke-width="0.25" textLength="8.63" lengthAdjust="spacingAndGlyphs">1.</text>
<text x="59.1" y="486.4" font-family="Liberation Sans, sans-serif" font-size="9.6" font-weight="bold" fill="#000" stroke="#000" stroke-width="0.25" textLength="13.97" lengthAdjust="spacingAndGlyphs">.05</text>
<text x="151.59" y="486.4" font-family="Liberation Sans, sans-serif" font-size="9.6" fill="#000" stroke="#000" stroke-width="0.25" textLength="19.67" lengthAdjust="spacingAndGlyphs">6.95</text>
<text x="208.6" y="486.4" font-family="Liberation Sans, sans-serif" font-size="9.6" font-weight="bold" fill="#000" stroke="#000" stroke-width="0.25" textLength="8.38" lengthAdjust="spacingAndGlyphs">6.</text>
<text x="283.29" y="486.4" font-family="Liberation Sans, sans-serif" font-size="9.6" fill="#000" stroke="#000" stroke-width="0.25" textLength="8.62" lengthAdjust="spacingAndGlyphs">8.</text>
<text x="326.71" y="486.4" font-family="Liberation Sans, sans-serif" font-size="9.6" font-weight="bold" fill="#000" stroke="#000" stroke-width="0.25" textLength="13.75" lengthAdjust="spacingAndGlyphs">.05</text>
<text x="401.19" y="486.4" font-family="Liberation Sans, sans-serif" font-size="9.6" fill="#000" stroke="#000" stroke-width="0.25" textLength="14.08" lengthAdjust="spacingAndGlyphs">.35</text>
<text transform="translate(466.9 198.9) rotate(-90)" x="-0.35" y="0" font-family="Liberation Serif, serif" font-size="9" font-weight="bold" fill="#000" stroke="#000" stroke-width="0.3" textLength="106.63" lengthAdjust="spacingAndGlyphs">Cholesterol degradation (%)</text>
<text transform="translate(441.2 392.9) rotate(-90)" x="-0.79" y="0" font-family="Liberation Sans, sans-serif" font-size="9.8" fill="#000" stroke="#000" stroke-width="0.25" textLength="47.99" lengthAdjust="spacingAndGlyphs">Desirability</text>
<text x="4.52" y="521.3" font-family="Liberation Serif, serif" font-size="19.6" fill="#000" stroke="#000" stroke-width="0.5" textLength="12.67" lengthAdjust="spacingAndGlyphs">B</text>
<text x="89.92" y="539.7" font-family="Liberation Serif, serif" font-size="9" font-weight="bold" fill="#000" stroke="#000" stroke-width="0.3" textLength="11.15" lengthAdjust="spacingAndGlyphs">pH</text>
<text x="192.11" y="539.7" font-family="Liberation Serif, serif" font-size="9" font-weight="bold" fill="#000" stroke="#000" stroke-width="0.3" textLength="106.05" lengthAdjust="spacingAndGlyphs">Volume of medium (ml/flask)</text>
<text x="339.86" y="539.7" font-family="Liberation Serif, serif" font-size="9" font-weight="bold" fill="#000" stroke="#000" stroke-width="0.3" textLength="57.8" lengthAdjust="spacingAndGlyphs">Cholesterol (g/l)</text>
<text x="506.25" y="540.6" font-family="Liberation Sans, sans-serif" font-size="9.6" fill="#000" stroke="#000" stroke-width="0.25" textLength="45.95" lengthAdjust="spacingAndGlyphs">Desirability</text>
<text x="8.77" y="560.5" font-family="Liberation Sans, sans-serif" font-size="9.6" fill="#000" stroke="#000" stroke-width="0.25" textLength="28.98" lengthAdjust="spacingAndGlyphs">110.00</text>
<text x="8.52" y="616.8" font-family="Liberation Sans, sans-serif" font-size="9.6" fill="#000" stroke="#000" stroke-width="0.25" textLength="28.72" lengthAdjust="spacingAndGlyphs">87.134</text>
<text x="8.46" y="757.8" font-family="Liberation Sans, sans-serif" font-size="9.6" fill="#000" stroke="#000" stroke-width="0.25" textLength="29.28" lengthAdjust="spacingAndGlyphs">30.000</text>
<text x="8.23" y="792.8" font-family="Liberation Sans, sans-serif" font-size="9.6" fill="#000" stroke="#000" stroke-width="0.25" textLength="29.52" lengthAdjust="spacingAndGlyphs">.99065</text>
<text x="583.42" y="616" font-family="Liberation Sans, sans-serif" font-size="9.6" fill="#000" stroke="#000" stroke-width="0.25" textLength="28.71" lengthAdjust="spacingAndGlyphs">87.561</text>
<text x="583.33" y="672.4" font-family="Liberation Sans, sans-serif" font-size="9.6" fill="#000" stroke="#000" stroke-width="0.25" textLength="29.02" lengthAdjust="spacingAndGlyphs">64.713</text>
<text x="583.61" y="728.9" font-family="Liberation Sans, sans-serif" font-size="9.6" fill="#000" stroke="#000" stroke-width="0.25" textLength="28.42" lengthAdjust="spacingAndGlyphs">41.865</text>
<text x="460.62" y="723.5" font-family="Liberation Sans, sans-serif" font-size="10.2" fill="#000" stroke="#000" stroke-width="0.25" textLength="7.8" lengthAdjust="spacingAndGlyphs">0.</text>
<text x="514.91" y="667.4" font-family="Liberation Sans, sans-serif" font-size="10.2" fill="#000" stroke="#000" stroke-width="0.25" textLength="8.25" lengthAdjust="spacingAndGlyphs">.5</text>
<text x="570.05" y="610.8" font-family="Liberation Sans, sans-serif" font-size="10.2" fill="#000" stroke="#000" stroke-width="0.25" textLength="7.77" lengthAdjust="spacingAndGlyphs">1.</text>
<text x="61.82" y="983" font-family="Liberation Sans, sans-serif" font-size="9.6" font-weight="bold" fill="#000" stroke="#000" stroke-width="0.25" textLength="7.82" lengthAdjust="spacingAndGlyphs">6.</text>
<text x="153.5" y="983" font-family="Liberation Sans, sans-serif" font-size="9.6" fill="#000" stroke="#000" stroke-width="0.25" textLength="8.39" lengthAdjust="spacingAndGlyphs">8.</text>
<text x="200.63" y="983" font-family="Liberation Sans, sans-serif" font-size="9.6" font-weight="bold" fill="#000" stroke="#000" stroke-width="0.25" textLength="13.11" lengthAdjust="spacingAndGlyphs">15.</text>
<text x="272" y="983" font-family="Liberation Sans, sans-serif" font-size="9.6" fill="#000" stroke="#000" stroke-width="0.25" textLength="13.88" lengthAdjust="spacingAndGlyphs">60.</text>
<text x="317.22" y="982.8" font-family="Liberation Sans, sans-serif" font-size="9.6" font-weight="bold" fill="#000" stroke="#000" stroke-width="0.25" textLength="13.54" lengthAdjust="spacingAndGlyphs">.05</text>
<text x="386.4" y="982.8" font-family="Liberation Sans, sans-serif" font-size="9.6" fill="#000" stroke="#000" stroke-width="0.25" textLength="19.57" lengthAdjust="spacingAndGlyphs">6.95</text>
<text transform="translate(452.2 725.9) rotate(-90)" x="-0.34" y="0" font-family="Liberation Serif, serif" font-size="9" font-weight="bold" fill="#000" stroke="#000" stroke-width="0.3" textLength="140.4" lengthAdjust="spacingAndGlyphs">Cholesterol oxidase activity (U/OD600)</text>
<text transform="translate(428.1 893.2) rotate(-90)" x="-0.75" y="0" font-family="Liberation Sans, sans-serif" font-size="9.6" fill="#000" stroke="#000" stroke-width="0.25" textLength="46.05" lengthAdjust="spacingAndGlyphs">Desirability</text>
</g>
</svg>
</body></html>
